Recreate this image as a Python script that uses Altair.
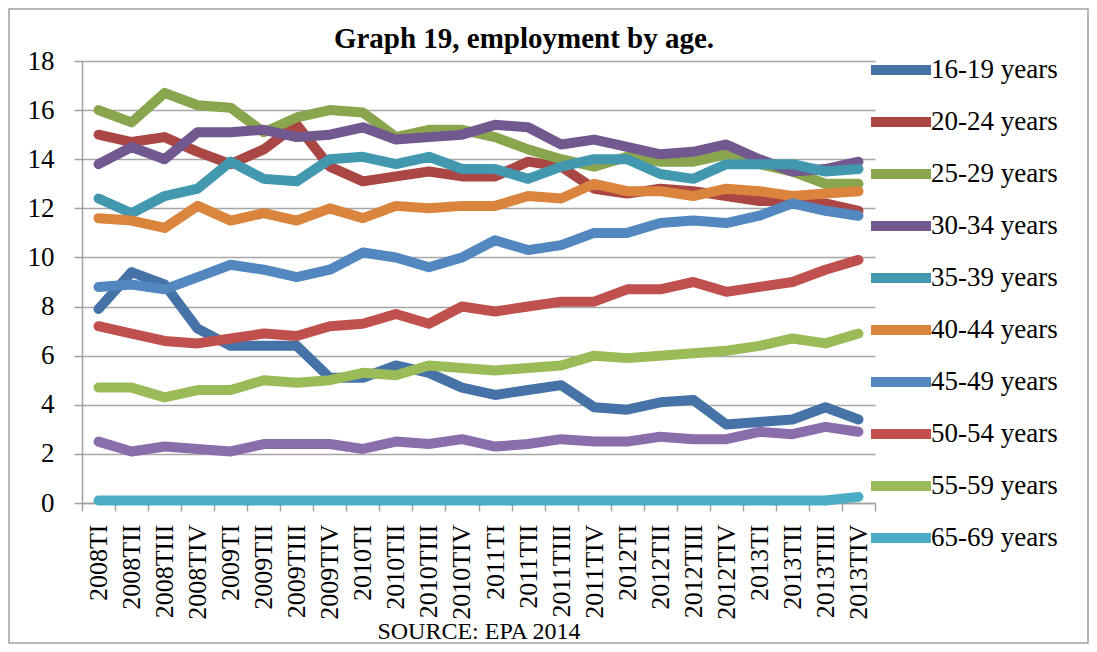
import altair as alt
import pandas as pd

quarters = ["2008TI", "2008TII", "2008TIII", "2008TIV",
            "2009TI", "2009TII", "2009TIII", "2009TIV",
            "2010TI", "2010TII", "2010TIII", "2010TIV",
            "2011TI", "2011TII", "2011TIII", "2011TIV",
            "2012TI", "2012TII", "2012TIII", "2012TIV",
            "2013TI", "2013TII", "2013TIII", "2013TIV"]

s16_19 = [7.9, 9.4, 8.9, 7.1, 6.4, 6.4, 6.4, 5.1, 5.1, 5.6, 5.3, 4.7,
          4.4, 4.6, 4.8, 3.9, 3.8, 4.1, 4.2, 3.2, 3.3, 3.4, 3.9, 3.4]
s20_24 = [15.0, 14.7, 14.9, 14.3, 13.8, 14.4, 15.4, 13.7, 13.1, 13.3, 13.5, 13.3,
          13.3, 13.9, 13.7, 12.8, 12.6, 12.8, 12.7, 12.5, 12.3, 12.3, 12.2, 11.9]
s25_29 = [16.0, 15.5, 16.7, 16.2, 16.1, 15.1, 15.7, 16.0, 15.9, 14.9, 15.2, 15.2,
          14.9, 14.4, 14.0, 13.7, 14.1, 13.9, 13.9, 14.2, 13.8, 13.5, 13.0, 13.0]
s30_34 = [13.8, 14.5, 14.0, 15.1, 15.1, 15.2, 14.9, 15.0, 15.3, 14.8, 14.9, 15.0,
          15.4, 15.3, 14.6, 14.8, 14.5, 14.2, 14.3, 14.6, 14.0, 13.5, 13.6, 13.9]
s35_39 = [12.4, 11.8, 12.5, 12.8, 13.9, 13.2, 13.1, 14.0, 14.1, 13.8, 14.1, 13.6,
          13.6, 13.2, 13.7, 14.0, 14.0, 13.4, 13.2, 13.8, 13.8, 13.8, 13.5, 13.6]
s40_44 = [11.6, 11.5, 11.2, 12.1, 11.5, 11.8, 11.5, 12.0, 11.6, 12.1, 12.0, 12.1,
          12.1, 12.5, 12.4, 13.0, 12.7, 12.7, 12.5, 12.8, 12.7, 12.5, 12.6, 12.7]
s45_49 = [8.8, 8.9, 8.7, 9.2, 9.7, 9.5, 9.2, 9.5, 10.2, 10.0, 9.6, 10.0,
          10.7, 10.3, 10.5, 11.0, 11.0, 11.4, 11.5, 11.4, 11.7, 12.2, 11.9, 11.7]
s50_54 = [7.2, 6.9, 6.6, 6.5, 6.7, 6.9, 6.8, 7.2, 7.3, 7.7, 7.3, 8.0,
          7.8, 8.0, 8.2, 8.2, 8.7, 8.7, 9.0, 8.6, 8.8, 9.0, 9.5, 9.9]
s55_59 = [4.7, 4.7, 4.3, 4.6, 4.6, 5.0, 4.9, 5.0, 5.3, 5.2, 5.6, 5.5,
          5.4, 5.5, 5.6, 6.0, 5.9, 6.0, 6.1, 6.2, 6.4, 6.7, 6.5, 6.9]
s60_64 = [2.5, 2.1, 2.3, 2.2, 2.1, 2.4, 2.4, 2.4, 2.2, 2.5, 2.4, 2.6,
          2.3, 2.4, 2.6, 2.5, 2.5, 2.7, 2.6, 2.6, 2.9, 2.8, 3.1, 2.9]
s65_69 = [0.1, 0.1, 0.1, 0.1, 0.1, 0.1, 0.1, 0.1, 0.1, 0.1, 0.1, 0.1,
          0.1, 0.1, 0.1, 0.1, 0.1, 0.1, 0.1, 0.1, 0.1, 0.1, 0.1, 0.25]

series_names = ["16-19 years", "20-24 years", "25-29 years", "30-34 years",
                "35-39 years", "40-44 years", "45-49 years", "50-54 years",
                "55-59 years", "60-64 years", "65-69 years"]
legend_names = ["16-19 years", "20-24 years", "25-29 years", "30-34 years",
                "35-39 years", "40-44 years", "45-49 years", "50-54 years",
                "55-59 years", "65-69 years"]
series_colors = ["#4572A7", "#AA4643", "#89A54E", "#71588F", "#4198AF",
                 "#DB843D", "#5387C0", "#C0504D", "#9BBB59", "#8A6DAB", "#4BACC6"]
series_values = [s16_19, s20_24, s25_29, s30_34, s35_39, s40_44,
                 s45_49, s50_54, s55_59, s60_64, s65_69]

title_text = "Graph 19, employment by age."
source_text = "SOURCE: EPA 2014"

rows = []
for name, vals in zip(series_names, series_values):
    for q, v in zip(quarters, vals):
        rows.append({"quarter": q, "series": name, "value": v})
df = pd.DataFrame(rows)

FONT = "Liberation Serif"
W, H = 793, 442
PAD = {"left": 74, "top": 53, "right": 214, "bottom": 141}

lines = alt.Chart(df).mark_line(strokeWidth=10, strokeCap="round", strokeJoin="round").encode(
    x=alt.X("quarter:N", sort=quarters, bandPosition=0.5,
            scale=alt.Scale(type="band", paddingInner=0, paddingOuter=0),
            axis=alt.Axis(title=source_text, labelAngle=270, tickBand="extent",
                          labelFont=FONT, labelFontSize=26, labelColor="black",
                          labelPadding=13, tickSize=8, tickColor="#A0A0A0", tickWidth=1.5,
                          domainColor="#A0A0A0", domainWidth=1.5, grid=False,
                          titleFont=FONT, titleFontSize=24, titleFontWeight="normal",
                          titleColor="black", titlePadding=0)),
    y=alt.Y("value:Q", scale=alt.Scale(domain=[0, 18], nice=False),
            axis=alt.Axis(title=None, values=[0, 2, 4, 6, 8, 10, 12, 14, 16, 18],
                          labelFont=FONT, labelFontSize=27, labelColor="black",
                          labelPadding=20, tickSize=8, tickColor="#A0A0A0", tickWidth=1.5,
                          domainColor="#A0A0A0", domainWidth=1.5,
                          grid=True, gridColor="#A6A6A6", gridWidth=1.5)),
    color=alt.Color("series:N", sort=series_names,
                    scale=alt.Scale(domain=series_names, range=series_colors),
                    legend=alt.Legend(title=None, values=legend_names, orient="none",
                                      legendX=802, legendY=-8,
                                      symbolType="M-2.5,0H2.5", symbolSize=576,
                                      symbolStrokeWidth=10, labelFont=FONT,
                                      labelFontSize=27, labelColor="black",
                                      labelOffset=13, rowPadding=12, labelLimit=300)),
    order=alt.Order("series:N"),
)

frame = alt.Chart(pd.DataFrame({"k": [0]})).mark_rect(
    fill="transparent", stroke="#A0A0A0", strokeWidth=1.5
).encode(
    x=alt.value(-73), x2=alt.value(1006), y=alt.value(-52), y2=alt.value(582)
)

title = alt.Chart(pd.DataFrame({"t": [title_text]})).mark_text(
    font=FONT, fontSize=29, fontWeight="bold", color="black",
    align="center", baseline="alphabetic"
).encode(
    text="t:N", x=alt.value(442), y=alt.value(-13)
)

chart = alt.layer(frame, lines, title).properties(
    width=W, height=H,
    autosize=alt.AutoSizeParams(type="none"),
    padding=PAD,
).configure_view(stroke=None)

chart.save("out.html", embed_options={"renderer": "svg", "actions": False})
